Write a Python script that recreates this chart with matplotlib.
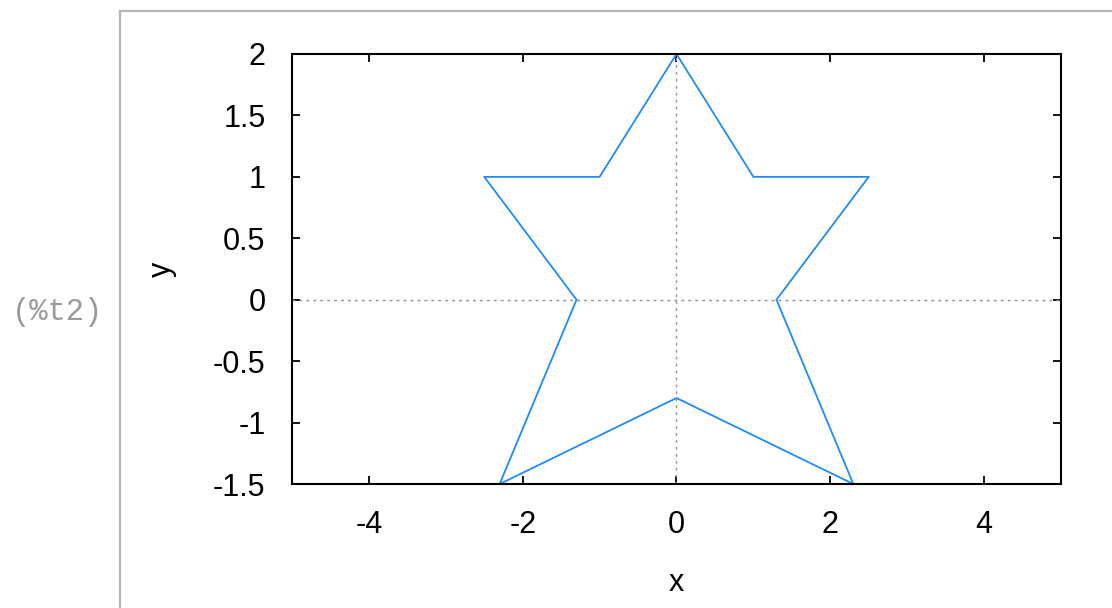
import matplotlib
matplotlib.use('Agg')
import matplotlib.pyplot as plt
from matplotlib.patches import Rectangle

# Star outline vertices (closed polygon)
star_x = [0, 1, 2.5, 1.3, 2.3, 0, -2.3, -1.3, -2.5, -1, 0]
star_y = [2, 1, 1, 0, -1.5, -0.8, -1.5, 0, 1, 1, 2]

x_ticks = [-4, -2, 0, 2, 4]
y_ticks = [-1.5, -1, -0.5, 0, 0.5, 1, 1.5, 2]

plt.rcParams['font.family'] = ['Liberation Sans', 'DejaVu Sans']

fig = plt.figure(figsize=(11.12, 6.08), dpi=100)

# Output cell frame and label
fig.patches.append(Rectangle((0.108, -0.1), 1.0, 1.082, transform=fig.transFigure,
                             fill=False, edgecolor='#b4b4b4', linewidth=1.6))
fig.text(0.052, 0.487, '(%t2)', family='Liberation Mono', fontsize=22,
         color='#9a9a9a', ha='center', va='center')

ax = fig.add_axes([0.2626, 0.2039, 0.6915, 0.7073])

ax.axhline(0, color='#909090', linestyle=(0, (2, 3)), linewidth=1.0)
ax.axvline(0, color='#909090', linestyle=(0, (2, 3)), linewidth=1.0)
ax.plot(star_x, star_y, color='#1e8cff', linewidth=1.3)

ax.set_xlim(-5, 5)
ax.set_ylim(-1.5, 2)
ax.set_xticks(x_ticks)
ax.set_yticks(y_ticks)
ax.set_xticklabels([f'{t:g}' for t in x_ticks])
ax.set_yticklabels([f'{t:g}' for t in y_ticks])
ax.tick_params(direction='in', top=True, right=True, length=6, width=1.3,
               labelsize=22, pad=19)
for s in ax.spines.values():
    s.set_linewidth(1.5)

ax.set_xlabel('x', fontsize=22, labelpad=20)
ax.set_ylabel('y', fontsize=22, labelpad=26)

fig.savefig('out.png', dpi=100)
